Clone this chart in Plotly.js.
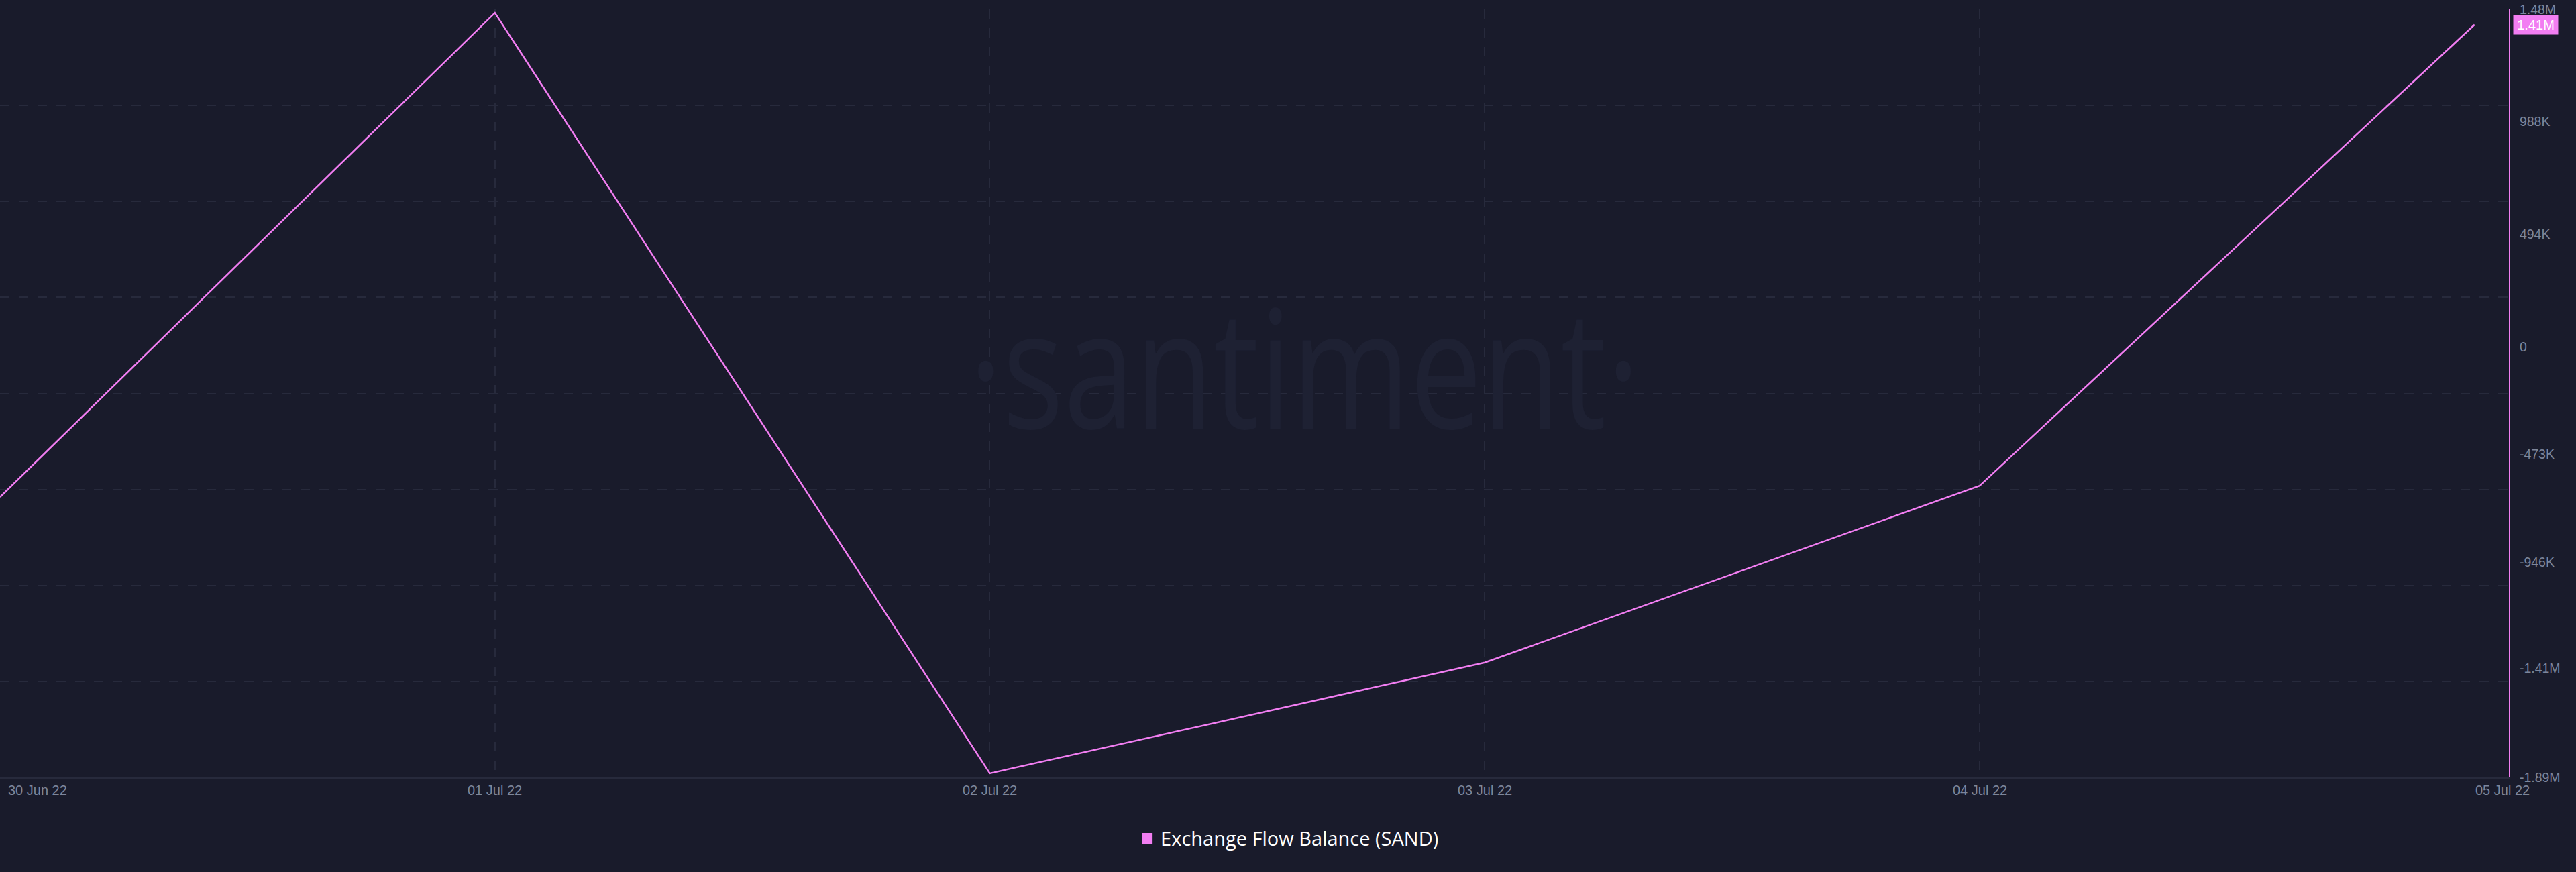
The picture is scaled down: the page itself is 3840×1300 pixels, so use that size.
<!DOCTYPE html>
<html>
<head>
<meta charset="utf-8">
<script src="https://cdn.plot.ly/plotly-3.0.1.min.js"></script>
<style>
  html, body { margin: 0; padding: 0; background: #191b2b; }
  #chart { width: 3840px; height: 1300px; }
</style>
</head>
<body>
<div id="chart"></div>
<script>
// ---- data ----
const dates = ['2022-06-30', '2022-07-01', '2022-07-02', '2022-07-03', '2022-07-04', '2022-07-05'];
const flowBalance = [-660000, 1465000, -1872000, -1386000, -610000, 1413000];
const dateLabels = ['30 Jun 22', '01 Jul 22', '02 Jul 22', '03 Jul 22', '04 Jul 22', '05 Jul 22'];
const yTickVals = [1480000, 988000, 494000, 0, -473000, -946000, -1410000, -1890000];
const yTickText = ['1.48M', '988K', '494K', '0', '-473K', '-946K', '-1.41M', '-1.89M'];
const seriesName = 'Exchange Flow Balance (SAND)';
const watermarkText = '·santiment·';

// ---- styles ----
const BG = '#191b2b';
const PINK = '#f27ef2';
const GRID = '#272a3c';
const TICK = '#7d869b';

function fmt(v) {
  const a = Math.abs(v);
  if (a >= 1e6) return (v / 1e6).toFixed(2) + 'M';
  if (a >= 1e3) return Math.round(v / 1e3) + 'K';
  return String(v);
}

const lineTrace = {
  x: dates, y: flowBalance, type: 'scatter', mode: 'lines',
  line: { color: PINK, width: 2.5 }, showlegend: false, hoverinfo: 'skip', yaxis: 'y'
};
const legendTrace = {
  x: [null], y: [null], type: 'scatter', mode: 'markers', name: seriesName,
  marker: { symbol: 'square', size: 18, color: PINK }, showlegend: true, yaxis: 'y'
};

const annotations = [];
// watermark
annotations.push({
  xref: 'paper', yref: 'paper', x: 0.52, y: 0.537, xanchor: 'center', yanchor: 'middle',
  text: watermarkText, showarrow: false,
  font: { family: 'Open Sans', size: 245, color: '#1e2133' }
});
// x-axis date labels
dateLabels.forEach((t, i) => {
  const first = i === 0, last = i === dateLabels.length - 1;
  annotations.push({
    xref: 'x', yref: 'paper', x: dates[i], y: 0, yshift: -19,
    xanchor: first ? 'left' : 'center', yanchor: 'middle',
    xshift: first ? 10 : (last ? 42 : 0),
    text: t, showarrow: false,
    font: { family: 'Liberation Sans, Arial, sans-serif', size: 20, color: TICK }
  });
});
// last value label
const lastVal = flowBalance[flowBalance.length - 1];
annotations.push({
  xref: 'paper', yref: 'y', x: 1, y: lastVal, xanchor: 'left', yanchor: 'middle', xshift: 6,
  text: fmt(lastVal), showarrow: false, bgcolor: PINK, width: 62, height: 24, borderpad: 2,
  font: { family: 'Liberation Sans, Arial, sans-serif', size: 20, color: '#ffffff' }
});

const layout = {
  width: 3840, height: 1300,
  paper_bgcolor: BG, plot_bgcolor: BG,
  margin: { l: 0, r: 100, t: 14, b: 141, pad: 0 },
  font: { family: 'Liberation Sans, Arial, sans-serif', color: TICK },
  xaxis: {
    type: 'date', range: ['2022-06-30 00:00', '2022-07-05 01:40'],
    tickvals: dates.slice(0, 5), showticklabels: false, ticks: '',
    showgrid: true, gridcolor: GRID, griddash: '14px,14px', gridwidth: 1.6,
    showline: true, linecolor: GRID, linewidth: 2, zeroline: false, fixedrange: true
  },
  yaxis: {
    side: 'right', range: [-1890000, 1480000],
    tickvals: yTickVals, ticktext: yTickText, ticks: '', ticklabelstandoff: 10,
    tickfont: { family: 'Liberation Sans, Arial, sans-serif', size: 19.5, color: TICK },
    showgrid: false, zeroline: false,
    showline: true, linecolor: PINK, linewidth: 2, fixedrange: true
  },
  yaxis2: {
    overlaying: 'y', side: 'left', range: [0, 8], tick0: 0, dtick: 1,
    showticklabels: false, ticks: '', showgrid: true, gridcolor: GRID, griddash: '14px,14px', gridwidth: 2,
    zeroline: false, showline: false, fixedrange: true
  },
  showlegend: true,
  legend: {
    orientation: 'h', x: 0.5134, xanchor: 'center', y: -0.0795, yanchor: 'middle',
    font: { family: 'Open Sans, sans-serif', size: 29, color: '#ffffff' },
    bgcolor: 'rgba(0,0,0,0)'
  },
  annotations: annotations
};

// invisible trace to activate the evenly spaced horizontal grid
const gridTrace = { x: [null], y: [null], yaxis: 'y2', type: 'scatter', mode: 'lines', showlegend: false, hoverinfo: 'skip' };

Plotly.newPlot('chart', [gridTrace, lineTrace, legendTrace], layout, { displayModeBar: false, staticPlot: true }).then(() => {
  document.querySelectorAll('.annotation-text').forEach(el => {
    if (el.textContent.indexOf('santiment') >= 0) {
      el.style.transformBox = 'fill-box';
      el.style.transformOrigin = 'center';
      el.style.transform = 'scaleX(0.78)';
    }
  });
});
</script>
</body>
</html>
